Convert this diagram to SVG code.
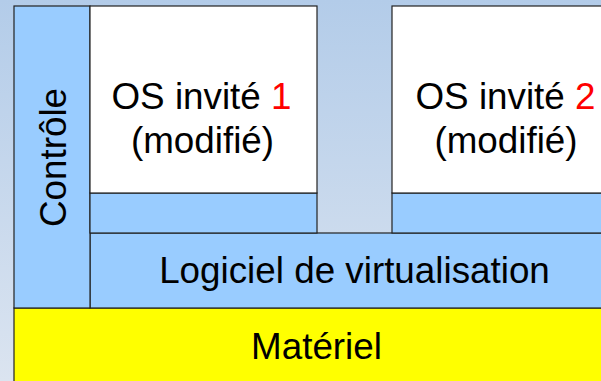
<svg xmlns="http://www.w3.org/2000/svg" width="601" height="381" viewBox="0 0 601 381">
<defs>
<linearGradient id="bg" x1="0" y1="0" x2="0" y2="1">
<stop offset="0" stop-color="#b3cce9"/>
<stop offset="1" stop-color="#dbe4f0"/>
</linearGradient>
<style>
.box{stroke:#222;stroke-width:1.2}
.blue{fill:#99ccff}
.white{fill:#ffffff}
.yellow{fill:#ffff00}
text{font-family:"Liberation Sans",Arial,sans-serif;font-size:36.8px;fill:#000;text-anchor:middle}
.red{fill:#ff0000}
</style>
</defs>
<rect width="601" height="381" fill="url(#bg)"/>
<g id="materiel">
<rect class="box yellow" x="14" y="308" width="605" height="80"/>
<text x="316.5" y="358.5">Matériel</text>
</g>
<g id="logiciel">
<rect class="box blue" x="90" y="233" width="529" height="75"/>
<text x="354.5" y="283">Logiciel de virtualisation</text>
</g>
<g id="controle">
<rect class="box blue" x="14" y="6" width="76" height="302"/>
<text transform="translate(65.5,157.5) rotate(-90)">Contrôle</text>
</g>
<g id="os1">
<rect class="box blue" x="90" y="193" width="227" height="40"/>
<rect class="box white" x="90" y="6" width="227" height="187"/>
<text x="201.5" y="109">OS invité <tspan class="red">1</tspan></text>
<text x="202.5" y="152.5">(modifié)</text>
</g>
<g id="os2">
<rect class="box blue" x="392" y="193" width="227" height="40"/>
<rect class="box white" x="392" y="6" width="227" height="187"/>
<text x="505.5" y="109">OS invité <tspan class="red">2</tspan></text>
<text x="506" y="152.5">(modifié)</text>
</g>
<g id="connectors"/>
</svg>
